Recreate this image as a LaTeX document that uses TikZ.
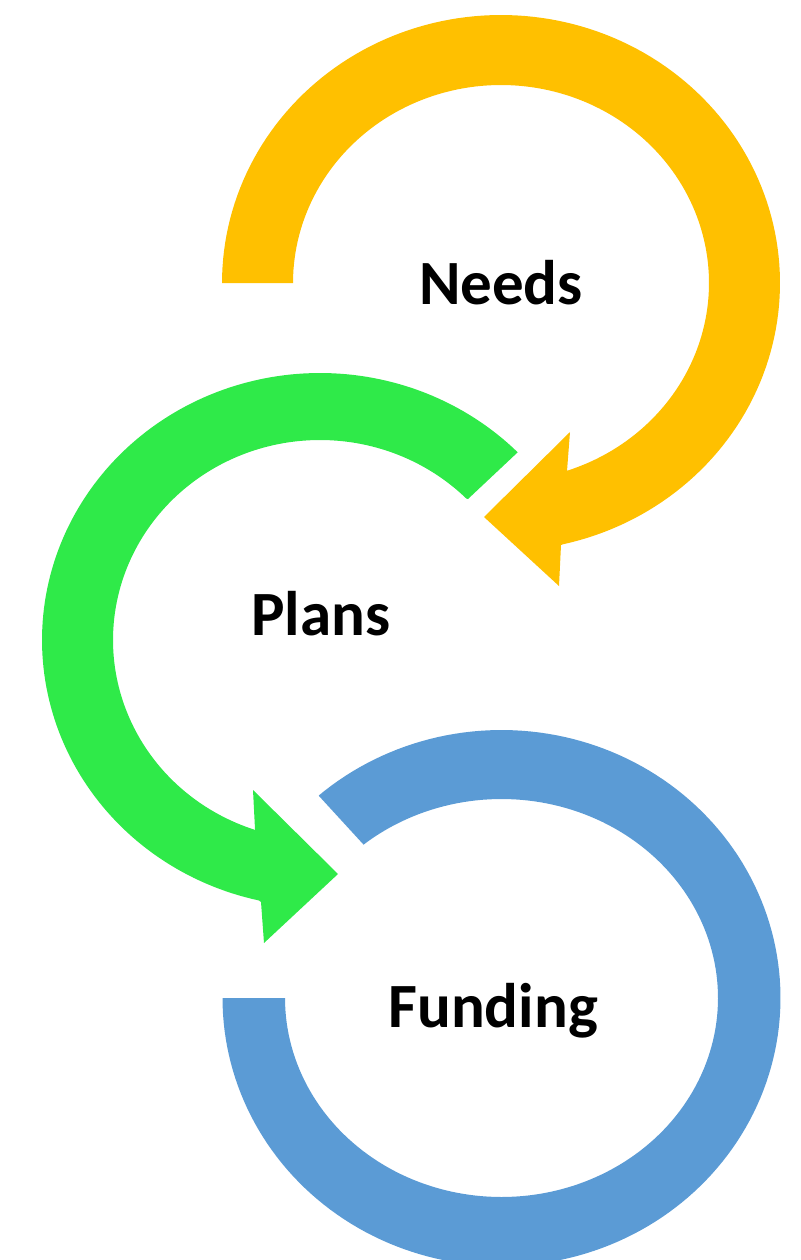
\documentclass[tikz,border=0pt]{standalone}
\usepackage{fontspec}
\setmainfont{Carlito}
\definecolor{ygold}{HTML}{FFC000}
\definecolor{pgreen}{HTML}{2FEA49}
\definecolor{fblue}{HTML}{5B9BD5}
\begin{document}
\begin{tikzpicture}[x=1pt,y=-1pt,
  lbl/.style={font=\fontsize{63}{70}\selectfont\bfseries, inner sep=0pt, anchor=base}]
\useasboundingbox (0,0) rectangle (800,1260);
\clip (0,0) rectangle (800,1260);
% yellow arc arrow
\fill[ygold] (222,283) -- plot[domain=0:1,samples=150] ({501+279*cos(180+257.6*\x)},{283+268*sin(180+257.6*\x)})
  -- (561,545) -- (559,586) -- (484,517) -- (570,432) -- (567,471)
  -- plot[domain=0:1,samples=150] ({501+208*cos(431.5-251.5*\x)},{283+198*sin(431.5-251.5*\x)})
  -- (293,283) -- cycle;
% green arc arrow
\fill[pgreen] (518,452) -- plot[domain=0:1,samples=150] ({320+278*cos(-44.7-213*\x)},{640+267*sin(-44.7-213*\x)})
  -- (261,902) -- (264,943) -- (338,874) -- (253,790) -- (255,829)
  -- plot[domain=0:1,samples=150] ({320+207*cos(-251.7+207.1*\x)},{640+200*sin(-251.7+207.1*\x)})
  -- (468,499) -- cycle;
% blue arc
\fill[fblue] (222.5,998) -- plot[domain=0:1,samples=180] ({501.5+279*cos(180-311*\x)},{998+268*sin(180-311*\x)})
  -- (319,796) -- (363,844)
  -- plot[domain=0:1,samples=180] ({501.5+216.5*cos(-129.6+309.6*\x)},{998+199*sin(-129.6+309.6*\x)})
  -- (285,998) -- cycle;
\node[lbl] (needs) at (501,304) {Needs};
\node[lbl] (plans) at (321,635) {Plans};
\node[lbl] (funding) at (493,1027) {Funding};
\end{tikzpicture}
\end{document}
